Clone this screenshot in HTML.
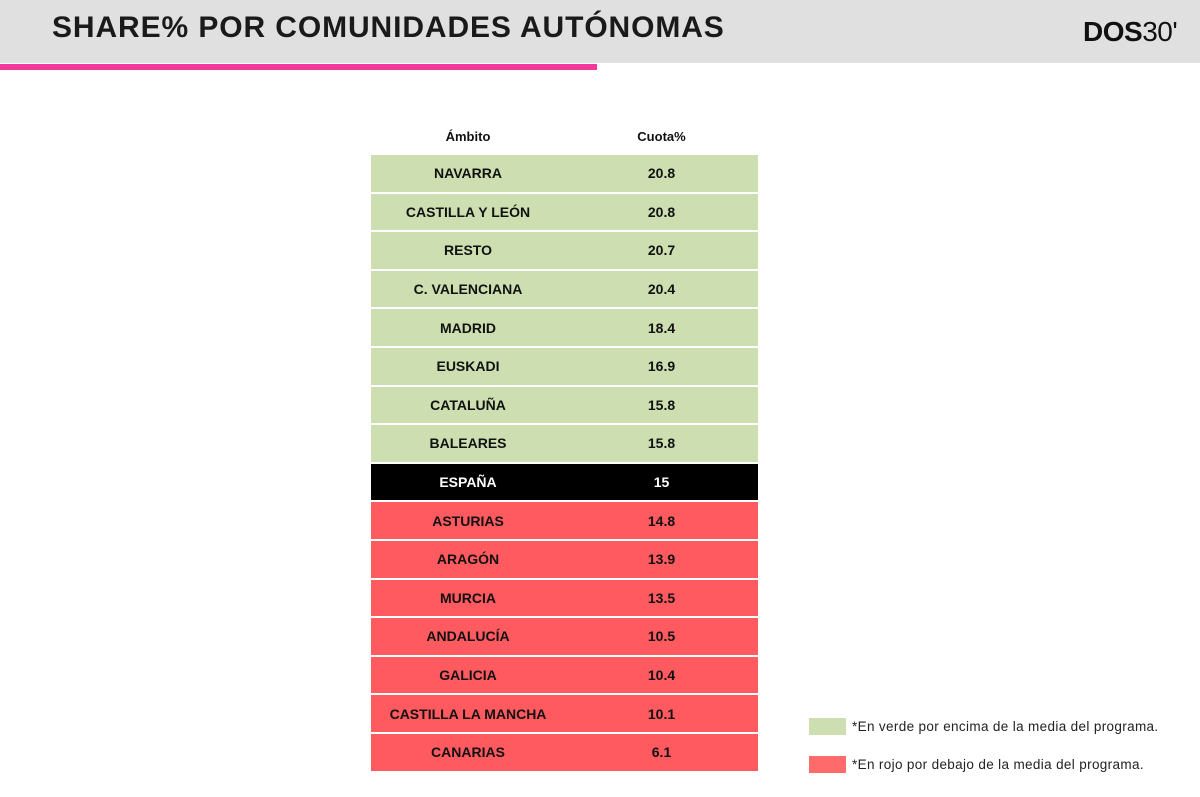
<!DOCTYPE html>
<html><head><meta charset="utf-8"><style>
body{margin:0;width:1200px;height:797px;background:#fff;position:relative;overflow:hidden;font-family:"Liberation Sans",sans-serif;}
#hdr{position:absolute;left:0;top:0;width:1200px;height:63px;background:#e0e0e0;}
#title{position:absolute;left:52px;top:11px;font-size:30px;font-weight:bold;color:#1a1a1a;letter-spacing:0.9px;}
#pink{position:absolute;left:0;top:64px;width:597px;height:6px;background:#f2399b;}
#logo{position:absolute;left:1083px;top:16px;font-size:28px;color:#111;letter-spacing:-0.5px;}
#logo b{font-weight:900;}
.cell{position:absolute;display:flex;align-items:center;justify-content:center;font-size:14px;font-weight:bold;color:#111;}
.hd{font-size:13px;}
.leg{position:absolute;left:809px;width:37px;height:17px;}
.legt{position:absolute;left:852px;font-size:13.5px;color:#222;letter-spacing:0.35px;}
</style></head><body>
<div id="hdr"></div>
<div id="title">SHARE% POR COMUNIDADES AUTÓNOMAS</div>
<div id="pink"></div>
<div id="logo"><b>DOS</b>30'</div>
<div class="cell hd" style="left:371px;width:194px;top:125px;height:22px">Ámbito</div>
<div class="cell hd" style="left:565px;width:193px;top:125px;height:22px">Cuota%</div>
<div id="tbl"></div>
<div class="leg" style="top:718px;background:#cddfb0"></div>
<div class="legt" style="top:719px">*En verde por encima de la media del programa.</div>
<div class="leg" style="top:756px;background:#ff6a6a"></div>
<div class="legt" style="top:757px">*En rojo por debajo de la media del programa.</div>
<script>
const regions=["NAVARRA","CASTILLA Y LEÓN","RESTO","C. VALENCIANA","MADRID","EUSKADI","CATALUÑA","BALEARES","ESPAÑA","ASTURIAS","ARAGÓN","MURCIA","ANDALUCÍA","GALICIA","CASTILLA LA MANCHA","CANARIAS"];
const shares=["20.8","20.8","20.7","20.4","18.4","16.9","15.8","15.8","15","14.8","13.9","13.5","10.5","10.4","10.1","6.1"];
const avg=15;
const tbl=document.getElementById('tbl');
const top0=155,pitch=38.6,h=36.6;
regions.forEach((r,i)=>{
  const v=parseFloat(shares[i]);
  let bg,fg='#111';
  if(r==="ESPAÑA"){bg='#000';fg='#fff';}else if(v>avg)bg='#cddfb0';else bg='#ff5a5f';
  const y=top0+i*pitch;
  [[371,194,r,'region'],[565,193,shares[i],'share']].forEach(([x,w,t,k])=>{
    const d=document.createElement('div');
    d.className='cell';
    d.style.cssText=`left:${x}px;width:${w}px;top:${y}px;height:${h}px;background:${bg};color:${fg}`;
    d.textContent=t;
    
    
    tbl.appendChild(d);
  });
});
</script>
</body></html>
